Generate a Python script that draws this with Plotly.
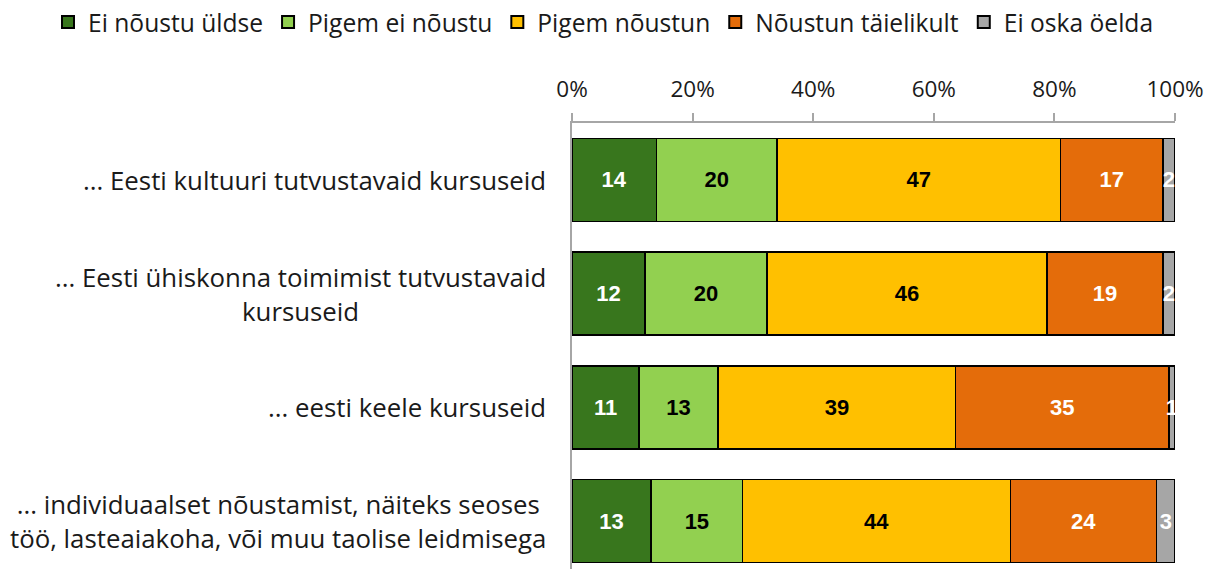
import plotly.graph_objects as go

categories = [
    "... Eesti kultuuri tutvustavaid kursuseid",
    "... Eesti ühiskonna toimimist tutvustavaid<br>kursuseid",
    "... eesti keele kursuseid",
    "... individuaalset nõustamist, näiteks seoses<br>töö, lasteaiakoha, või muu taolise leidmisega",
]
series_names = ["Ei nõustu üldse", "Pigem ei nõustu", "Pigem nõustun", "Nõustun täielikult", "Ei oska öelda"]
values = {
    "Ei nõustu üldse": [14, 12, 11, 13],
    "Pigem ei nõustu": [20, 20, 13, 15],
    "Pigem nõustun": [47, 46, 39, 44],
    "Nõustun täielikult": [17, 19, 35, 24],
    "Ei oska öelda": [2, 2, 1, 3],
}
colors = ["#38761D", "#92D050", "#FFC000", "#E46C0A", "#A6A6A6"]
text_colors = ["white", "black", "black", "white", "white"]
tick_vals = [0, 20, 40, 60, 80, 100]
tick_text = ["0%", "20%", "40%", "60%", "80%", "100%"]

FONT = "Open Sans"
BARFONT = "Liberation Sans"
ypos = list(range(len(categories)))

fig = go.Figure()
for name, col, tcol in zip(series_names, colors, text_colors):
    vals = values[name]
    fig.add_trace(go.Bar(
        name=name, y=ypos, x=vals, orientation="h",
        marker=dict(color=col, line=dict(color="black", width=1.5)),
        text=[str(v) for v in vals], textposition="inside",
        insidetextanchor="middle", constraintext="none",
        textfont=dict(color=tcol, size=22, family=BARFONT, weight="bold"),
        width=0.73, cliponaxis=True, hoverinfo="skip",
    ))

for i, c in enumerate(categories):
    fig.add_annotation(
        x=0, xref="paper", y=i, yref="y", text=c, showarrow=False,
        xanchor="right", yanchor="middle", align="center", xshift=-24,
        font=dict(size=25.8, family=FONT, color="#1a1a1a"),
    )

fig.update_layout(
    barmode="stack", barnorm="percent",
    width=1207, height=569,
    margin=dict(l=572, r=32, t=123, b=0, autoexpand=False),
    plot_bgcolor="white", paper_bgcolor="white",
    font=dict(family=FONT, size=22, color="#1a1a1a"),
    uniformtext=dict(minsize=22, mode="show"),
    legend=dict(orientation="h", x=-0.869, xanchor="left", xref="paper",
                y=1.277, yanchor="top", yref="paper",
                font=dict(size=24.6, family=FONT, color="#1a1a1a"),
                traceorder="normal", itemwidth=30, itemsizing="constant"),
    showlegend=True,
)
fig.update_xaxes(
    side="top", range=[0, 100], tickvals=tick_vals, ticktext=tick_text,
    showgrid=False, zeroline=False, showline=True, linecolor="#A6A6A6", linewidth=1.5,
    ticks="outside", ticklen=8, tickcolor="#A6A6A6", tickwidth=1.5,
    tickfont=dict(size=22.5, family=FONT, color="#1a1a1a"), ticklabelstandoff=7,
)
fig.update_yaxes(
    range=[3.42, -0.5], showticklabels=False, showgrid=False, zeroline=False,
    showline=True, linecolor="#A6A6A6", linewidth=1.5, ticks="",
)

fig.write_html("out.html", config={"displayModeBar": False},
               post_script="document.body.style.margin='0';")
